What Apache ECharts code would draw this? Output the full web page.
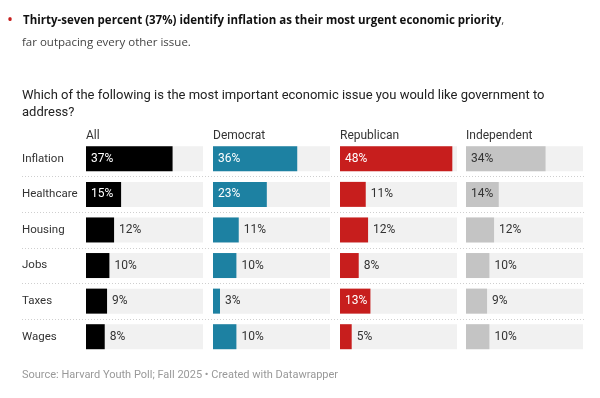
<!DOCTYPE html>
<html>
<head>
<meta charset="utf-8">
<script src="https://cdn.jsdelivr.net/npm/echarts@6/dist/echarts.min.js"></script>
<style>
  html, body { margin: 0; padding: 0; background: #fff; }
  #chart { width: 600px; height: 398px; }
</style>
</head>
<body>
<div id="chart"></div>
<script>
const issues = ['Inflation', 'Healthcare', 'Housing', 'Jobs', 'Taxes', 'Wages']
const groups = ['All', 'Democrat', 'Republican', 'Independent']
const allVals = [37, 15, 12, 10, 9, 8]
const demVals = [36, 23, 11, 10, 3, 10]
const repVals = [48, 11, 12, 8, 13, 5]
const indVals = [34, 14, 12, 10, 9, 10]

const colors = ['#000000', '#1d81a2', '#c71e1d', '#c4c4c4']
const insideText = ['#ffffff', '#ffffff', '#ffffff', '#333333']
const values = [allVals, demVals, repVals, indVals]
const lefts = [86, 213, 340, 466]
const colW = 117
const gridTop = 141
const gridH = 213.5

const chart = echarts.init(document.getElementById('chart'))

const grids = lefts.map(l => ({ left: l, top: gridTop, width: colW, height: gridH }))
// extra grid just for the dotted row separators
grids.push({ left: 22, top: gridTop, width: 562, height: gridH })

const xAxes = lefts.map((l, i) => ({
  gridIndex: i, type: 'value', min: 0, max: 50, show: false
}))
xAxes.push({ gridIndex: 4, type: 'value', min: 0, max: 1, show: false })

const yAxes = lefts.map((l, i) => ({
  gridIndex: i,
  type: 'category',
  inverse: true,
  data: issues,
  axisLine: { show: false },
  axisTick: { show: false },
  axisLabel: {
    show: i === 0,
    align: 'left',
    margin: 64,
    color: '#333',
    fontFamily: 'Roboto',
    fontSize: 11.5
  }
}))
yAxes.push({
  gridIndex: 4,
  type: 'value',
  min: 0,
  max: 6,
  interval: 1,
  axisLine: { show: false },
  axisTick: { show: false },
  axisLabel: { show: false },
  splitLine: {
    show: true,
    showMinLine: false,
    showMaxLine: false,
    lineStyle: { type: [1, 2], color: '#cfcfcf', width: 1 }
  }
})

const series = values.map((vals, i) => ({
  type: 'bar',
  xAxisIndex: i,
  yAxisIndex: i,
  barWidth: 25,
  showBackground: true,
  backgroundStyle: { color: '#f1f1f1' },
  itemStyle: { color: colors[i] },
  data: vals.map(v => {
    const inside = v >= 13
    return {
      value: v,
      label: {
        show: true,
        position: inside ? 'insideLeft' : 'right',
        distance: 5,
        formatter: '{c}%',
        color: inside ? insideText[i] : '#333',
        fontFamily: 'Roboto',
        fontSize: 12
      }
    }
  })
}))

const titles = [
  {
    left: 2, top: 5,
    text: '{dot|•}  {b|Thirty-seven percent (37%) identify inflation as their most urgent economic priority}{n|,}',
    textStyle: {
      rich: {
        dot: { color: '#c71e1d', fontSize: 16, fontWeight: 'normal', fontFamily: 'Open Sans', lineHeight: 21 },
        b: { color: '#111', fontSize: 11.5, fontWeight: 'bold', fontFamily: 'Open Sans', lineHeight: 21 },
        n: { color: '#444', fontSize: 11.5, fontWeight: 'normal', fontFamily: 'Open Sans', lineHeight: 21 }
      }
    }
  },
  {
    left: 17, top: 27,
    text: 'far outpacing every other issue.',
    textStyle: { color: '#444', fontSize: 11.5, fontWeight: 'normal', fontFamily: 'Open Sans', lineHeight: 21 }
  },
  {
    left: 17, top: 82,
    text: 'Which of the following is the most important economic issue you would like government to\naddress?',
    textStyle: { color: '#222', fontSize: 13, fontWeight: 'normal', fontFamily: 'Roboto', lineHeight: 17 }
  },
  {
    left: 17, top: 365,
    text: 'Source: Harvard Youth Poll; Fall 2025 • Created with Datawrapper',
    textStyle: { color: '#999', fontSize: 11, fontWeight: 'normal', fontFamily: 'Roboto' }
  }
]
groups.forEach((g, i) => {
  titles.push({
    left: lefts[i] - 5, top: 125,
    text: g,
    textStyle: { color: '#333', fontSize: 12, fontWeight: 'normal', fontFamily: 'Roboto' }
  })
})

chart.setOption({
  backgroundColor: '#fff',
  animation: false,
  title: titles,
  grid: grids,
  xAxis: xAxes,
  yAxis: yAxes,
  series: series
})
</script>
</body>
</html>
